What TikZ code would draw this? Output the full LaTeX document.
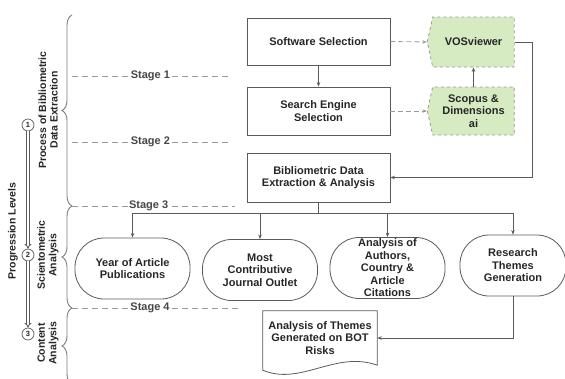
\documentclass[tikz,border=0pt]{standalone}
\usepackage{fontspec}
\setmainfont{Liberation Sans}
\usetikzlibrary{arrows.meta,shapes.symbols,decorations.pathreplacing,calc}

\definecolor{edge}{HTML}{5A5A5A}
\definecolor{guide}{HTML}{9A9A9A}
\definecolor{leaf}{HTML}{D6EBC2}
\definecolor{ink}{HTML}{262626}

\begin{document}
\begin{tikzpicture}[x=1pt,y=-1pt,
  font=\fontsize{11}{12.5}\selectfont\bfseries,
  txt/.style={text=ink, align=center},
  box/.style={txt, draw=edge, line width=0.8pt, minimum width=143pt, inner sep=2pt},
  tool/.style={txt, signal, signal to=west, signal pointer angle=155, draw=guide, dashed, fill=leaf, line width=0.8pt, minimum width=87pt, inner sep=2pt},
  pill/.style={txt, draw=edge, line width=0.8pt, rounded corners=29pt, minimum width=115pt, minimum height=61pt, inner sep=0pt},
  arr/.style={draw=edge, line width=0.8pt, -{Stealth[length=4.5pt,width=3.5pt]}},
  darr/.style={arr, draw=guide, dash pattern=on 5pt off 3pt},
  stageline/.style={draw=guide, line width=0.9pt, dash pattern=on 6pt off 4pt},
  stagelabel/.style={fill=white, text=ink!85, inner sep=1.5pt},
  bracket/.style={draw=guide!80!black, line width=0.9pt, decorate, decoration={brace, amplitude=10pt}},
  side/.style={txt, rotate=90, font=\fontsize{10.5}{11.5}\selectfont\bfseries},
  level/.style={circle, draw=edge, line width=0.7pt, inner sep=0pt, minimum size=12pt, text=ink, font=\fontsize{7.5}{8}\selectfont\bfseries},
  climb/.style={draw=edge, double=white, double distance=1.6pt, line width=0.8pt, -{Implies}},
]
\useasboundingbox (0,0) rectangle (565,378);

% left-hand level brackets
\draw[bracket] (72,206) -- (72,15);
\draw[bracket] (72,308) -- (72,206);
\draw[bracket] (72,384) -- (72,308);

% stage separators
\draw[stageline] (72,76) -- (232,76) node[stagelabel, pos=0.49] (st1) {Stage 1};
\draw[stageline] (72,142) -- (232,142) node[stagelabel, pos=0.49] (st2) {Stage 2};
\draw[stageline] (72,206) -- (235,206) node[stagelabel, pos=0.47] (st3) {Stage 3};
\draw[stageline] (72,308) -- (238,308) node[stagelabel, pos=0.47] (st4) {Stage 4};

% level labels
\node[side] (lv1) at (48,110) {Process of Bibliometric\\Data Extraction};
\node[side] (lv2) at (48,255) {Scientometric\\Analysis};
\node[side] (lv3) at (48,343) {Content\\Analysis};
\node[side] (prog) at (13,231) {Progression Levels};

% progression markers
\node[level] (p1) at (28,125) {1};
\node[level] (p2) at (28,255) {2};
\node[level] (p3) at (28,334) {3};
\draw[climb] (p1) -- (p2);
\draw[climb] (p2) -- (p3);

% data extraction flow
\node[box, minimum height=47pt] (soft) at (318.5,41.5) {Software Selection};
\node[box, minimum height=48pt] (search) at (318.5,111) {Search Engine\\Selection};
\node[box, minimum height=49pt] (biblio) at (318.5,177.5) {Bibliometric Data\\Extraction \& Analysis};

\node[tool, minimum height=50pt] (vos) at (473.5,42) {VOSviewer};
\node[tool, minimum height=48pt] (scopus) at (473.5,111) {Scopus \&\\Dimensions\\ai};

\draw[arr] (soft) -- (search);
\draw[darr] (soft.east) -- (vos.west);
\draw[darr] (search.east) -- (scopus.west);
\draw[arr] (scopus.north) -- (vos.south);
\draw[arr] (vos.east) -- ++(18,0) |- (biblio.east);

% scientometric outputs
\node[pill] (year) at (132.5,268.5) {Year of Article\\Publications};
\node[pill] (journal) at (260,270) {Most\\Contributive\\Journal Outlet};
\node[pill] (authors) at (387.5,268) {Analysis of\\Authors,\\Country \&\\Article\\Citations};
\node[pill, minimum width=106pt] (research) at (513,265.5) {Research\\Themes\\Generation};

\coordinate (split) at (318.5,213);
\draw[edge, line width=0.8pt] (biblio.south) -- (split);
\draw[arr] (split) -| (year.north);
\draw[arr] (split) -| (journal.north);
\draw[arr] (split) -| (authors.north);
\draw[arr] (split) -| (research.north);

% content analysis document
\node[txt, minimum width=114pt, minimum height=54pt, inner sep=1pt] (doc) at (320,338) {Analysis of Themes\\Generated on BOT\\Risks};
\draw[edge, line width=0.8pt] ($(doc.south west)+(0,5)$) -- (doc.north west) -- (doc.north east) -- (doc.south east)
  .. controls +(-42,-15) and +(38,16) .. ($(doc.south west)+(0,5)$) -- cycle;
\draw[arr] (research.south) |- (doc.east);
\end{tikzpicture}
\end{document}
